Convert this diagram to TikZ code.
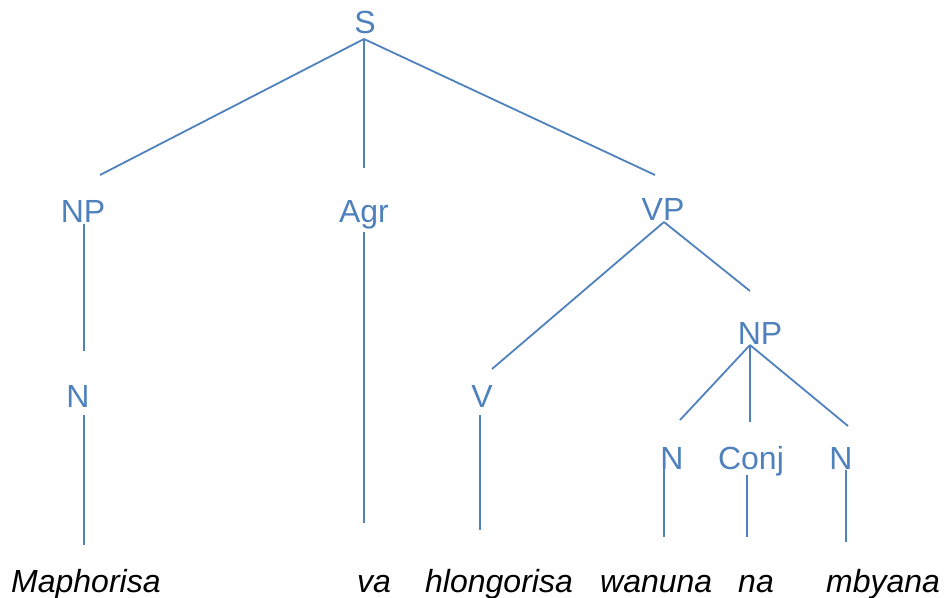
\documentclass[tikz,border=0pt]{standalone}
\usepackage{fontspec}
\setmainfont{Liberation Sans}
\definecolor{treeblue}{HTML}{4F81BD}
\begin{document}
\begin{tikzpicture}[x=1pt,y=-1pt,
  cat/.style={anchor=base,inner sep=0pt,text=treeblue,font=\fontsize{32}{38}\selectfont},
  word/.style={anchor=base west,inner sep=0pt,text=black,font=\fontsize{32}{38}\selectfont\itshape},
  branch/.style={draw=treeblue,line width=1.8pt}]
\useasboundingbox (0,0) rectangle (945,597);
% category labels
\node[cat] (S)    at (365,33)  {S};
\node[cat] (NPa)  at (83,222)  {NP};
\node[cat] (Agr)  at (364,222) {Agr};
\node[cat] (VP)   at (663,220) {VP};
\node[cat] (Na)   at (78,407)  {N};
\node[cat] (V)    at (482,407) {V};
\node[cat] (NPb)  at (760,344) {NP};
\node[cat] (Nb)   at (672,469) {N};
\node[cat] (Conj) at (751,469) {Conj};
\node[cat] (Nc)   at (841,469) {N};
% terminal words
\node[word] (w1) at (11,592)  {Maphorisa};
\node[word] (w2) at (357,592) {va};
\node[word] (w3) at (425,592) {hlongorisa};
\node[word] (w4) at (600,592) {wanuna};
\node[word] (w5) at (738,592) {na};
\node[word] (w6) at (826,592) {mbyana};
% branch end points
\coordinate (S-j)    at (364,39);
\coordinate (NPa-t)  at (100,175);
\coordinate (Agr-t)  at (364,168);
\coordinate (VP-t)   at (655,175);
\coordinate (NPa-b)  at (84,224);
\coordinate (Na-t)   at (84,351);
\coordinate (Na-b)   at (84,415);
\coordinate (w1-t)   at (84,545);
\coordinate (Agr-b)  at (364,232);
\coordinate (w2-t)   at (364,523);
\coordinate (VP-j)   at (664,222);
\coordinate (V-t)    at (492,369);
\coordinate (NPb-t)  at (750,291);
\coordinate (V-b)    at (480,415);
\coordinate (w3-t)   at (480,530);
\coordinate (NPb-j)  at (750,345);
\coordinate (Nb-t)   at (680,420);
\coordinate (Conj-t) at (750,422);
\coordinate (Nc-t)   at (848,426);
\coordinate (Nb-b)   at (664,468);
\coordinate (w4-t)   at (664,537);
\coordinate (Conj-b) at (747,475);
\coordinate (w5-t)   at (747,537);
\coordinate (Nc-b)   at (846,470);
\coordinate (w6-t)   at (846,542);
% branches
\draw[branch] (S-j) -- (NPa-t);
\draw[branch] (S-j) -- (Agr-t);
\draw[branch] (S-j) -- (VP-t);
\draw[branch] (NPa-b) -- (Na-t);
\draw[branch] (Na-b) -- (w1-t);
\draw[branch] (Agr-b) -- (w2-t);
\draw[branch] (VP-j) -- (V-t);
\draw[branch] (VP-j) -- (NPb-t);
\draw[branch] (V-b) -- (w3-t);
\draw[branch] (NPb-j) -- (Nb-t);
\draw[branch] (NPb-j) -- (Conj-t);
\draw[branch] (NPb-j) -- (Nc-t);
\draw[branch] (Nb-b) -- (w4-t);
\draw[branch] (Conj-b) -- (w5-t);
\draw[branch] (Nc-b) -- (w6-t);
\end{tikzpicture}
\end{document}
